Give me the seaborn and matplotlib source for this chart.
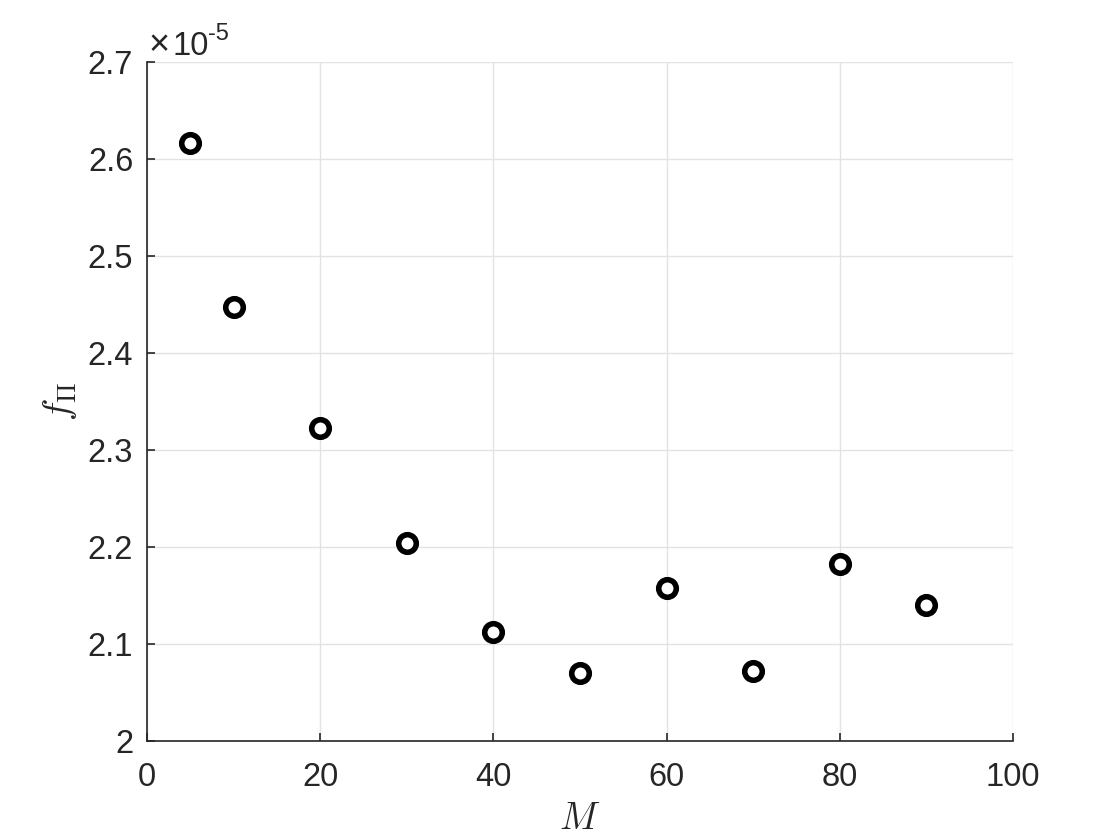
import matplotlib
matplotlib.use("Agg")
import matplotlib.pyplot as plt
import seaborn as sns
import pandas as pd

M_values = [5, 10, 20, 30, 40, 50, 60, 70, 80, 90]
f_values = [2.6165, 2.4474, 2.3227, 2.2041, 2.1124, 2.0701, 2.1577, 2.0722, 2.1825, 2.1402]  # x 1e-5
x_ticks = [0, 20, 40, 60, 80, 100]
y_ticks = [2.0, 2.1, 2.2, 2.3, 2.4, 2.5, 2.6, 2.7]

sns.set_theme(style="white")
plt.rcParams['font.family'] = ['Liberation Sans', 'DejaVu Sans']
plt.rcParams['mathtext.fontset'] = 'cm'

df = pd.DataFrame({"M": M_values, "f": f_values})

fig = plt.figure(figsize=(11.2, 8.4), dpi=100)
ax = fig.add_axes([0.1313, 0.1179, 0.9045 - 0.1313, 0.9262 - 0.1179])

sns.scatterplot(data=df, x="M", y="f", ax=ax, marker="o", s=160,
                facecolor="white", edgecolor="black", linewidth=4.0, zorder=3)

ax.set_xlim(0, 100)
ax.set_ylim(2.0, 2.7)
ax.set_xticks(x_ticks)
ax.set_yticks(y_ticks)
ax.yaxis.set_major_formatter(plt.FuncFormatter(lambda v, p: f"{v:g}"))
ax.grid(True, color="#e3e3e3", linewidth=1.0)
ax.set_axisbelow(True)

for s in ["top", "right"]:
    ax.spines[s].set_visible(False)
for s in ["left", "bottom"]:
    ax.spines[s].set_color("#262626")
    ax.spines[s].set_linewidth(1.2)

ax.tick_params(axis="both", direction="in", length=6, width=1.2, colors="#262626",
               labelsize=23.5, labelcolor="#262626", bottom=True, left=True)
ax.tick_params(axis="x", pad=15)
ax.tick_params(axis="y", pad=10)

ax.set_xlabel(r"$M$", fontsize=27, color="#262626", labelpad=6)
ax.set_ylabel(r"$f_{\Pi}$", fontsize=27, color="#262626", labelpad=6)

ax.text(0.002, 1.0103, "\u00d7", transform=ax.transAxes, fontsize=26, color="#262626",
        ha="left", va="baseline", fontweight="light")
ax.text(0.029, 1.0103, "10", transform=ax.transAxes, fontsize=23.5, color="#262626",
        ha="left", va="baseline")
ax.text(0.070, 1.033, "-5", transform=ax.transAxes, fontsize=17, color="#262626",
        ha="left", va="baseline")

fig.savefig("out.png", dpi=100)
